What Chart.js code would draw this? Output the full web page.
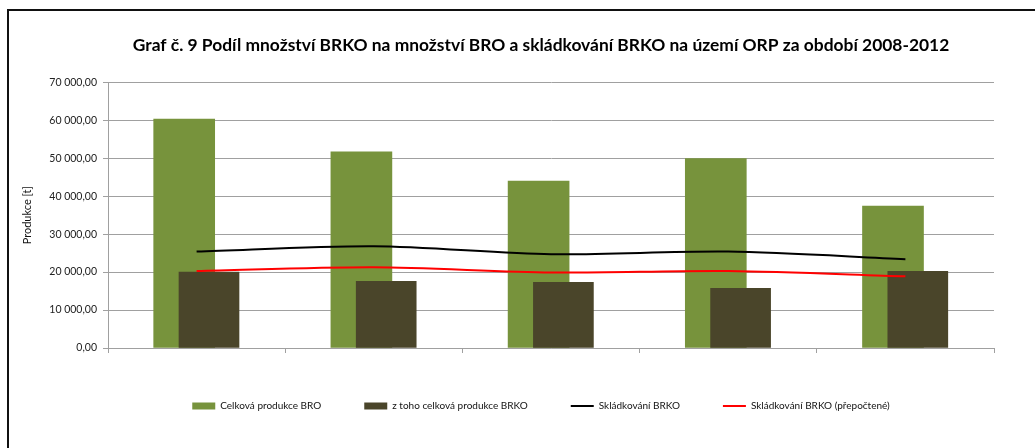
<!DOCTYPE html>
<html lang="cs">
<head>
<meta charset="utf-8">
<title>Graf č. 9</title>
<script src="https://cdn.jsdelivr.net/npm/chart.js@4.4.1/dist/chart.umd.min.js"></script>
<style>
    html, body { margin: 0; padding: 0; background: #fff; }
    #wrap { position: relative; width: 1035px; height: 448px; overflow: hidden; }
    #frame { position: absolute; left: 7px; top: 9px; width: 1100px; height: 500px; border: 2px solid #111; }
    #chart { position: absolute; left: 0; top: 0; }
</style>
</head>
<body>
<div id="wrap">
    <div id="frame"></div>
    <canvas id="chart" width="1035" height="448"></canvas>
</div>
<script>
// data
const years = ['2008', '2009', '2010', '2011', '2012'];
const produkceBRO = [60300, 51700, 44000, 49900, 37400];
const produkceBRKO = [20000, 17600, 17300, 15700, 20200];
const skladkovaniBRKO = [25400, 26800, 24700, 25400, 23400];
const skladkovaniPrepoctene = [20300, 21300, 19900, 20300, 18900];

const FONT = 'Lato, "Open Sans", sans-serif';
const barShift = 0.07; // Excel-style overlap of the two bars

function fmt(v) {
    const parts = v.toFixed(2).split('.');
    return parts[0].replace(/\B(?=(\d{3})+(?!\d))/g, ' ') + ',' + parts[1];
}

const ctx = document.getElementById('chart').getContext('2d');
new Chart(ctx, {
    type: 'bar',
    data: {
        labels: years,
        datasets: [{
            label: 'Celková produkce BRO',
            data: produkceBRO.map(function(v, i) { return { x: i - barShift, y: v }; }),
            backgroundColor: '#77933c',
            xAxisID: 'xb',
            grouped: false,
            barThickness: 61,
            order: 3
        }, {
            label: 'z toho celková produkce BRKO',
            data: produkceBRKO.map(function(v, i) { return { x: i + barShift, y: v }; }),
            backgroundColor: '#4a452a',
            xAxisID: 'xb',
            grouped: false,
            barThickness: 60,
            order: 2
        }, {
            type: 'line',
            label: 'Skládkování BRKO',
            data: skladkovaniBRKO,
            borderColor: '#000000',
            backgroundColor: '#000000',
            borderWidth: 2,
            pointRadius: 0,
            tension: 0.3,
            xAxisID: 'x',
            order: 0
        }, {
            type: 'line',
            label: 'Skládkování BRKO (přepočtené)',
            data: skladkovaniPrepoctene,
            borderColor: '#ff0000',
            backgroundColor: '#ff0000',
            borderWidth: 2,
            pointRadius: 0,
            tension: 0.3,
            xAxisID: 'x',
            order: 1
        }]
    },
    options: {
        responsive: false,
        animation: false,
        // title and legend are centred on the whole (wider) frame, so the
        // right margin of the plot comes from an empty right axis
        layout: { padding: { left: 47, right: 0, top: 0, bottom: 27 } },
        scales: {
            x: {
                type: 'category',
                offset: true,
                grid: { display: true, drawOnChartArea: false, offset: true, color: '#a0a0a0', tickLength: 5 },
                border: { color: '#a0a0a0' },
                ticks: { color: '#222', font: { family: FONT, size: 10 }, padding: 6 },
                afterFit: function(scale) { scale.height = 10; }
            },
            xb: {
                type: 'linear',
                display: false,
                offset: false,
                min: -0.5,
                max: 4.5
            },
            y: {
                min: 0,
                max: 70000,
                ticks: {
                    stepSize: 10000,
                    color: '#222',
                    font: { family: FONT, size: 10.5 },
                    padding: 6,
                    callback: function(value) { return fmt(value); }
                },
                grid: { color: '#a0a0a0', tickLength: 5 },
                border: { color: '#a0a0a0' },
                title: {
                    display: true,
                    text: 'Produkce [t]',
                    color: '#111',
                    font: { family: FONT, size: 11 },
                    padding: { top: -26.6, bottom: 0 }
                },
                afterFit: function(scale) { scale.width = 61; }
            },
            yr: {
                position: 'right',
                display: true,
                grid: { display: false },
                border: { display: false },
                ticks: { display: false },
                afterFit: function(scale) { scale.width = 41; }
            }
        },
        plugins: {
            title: {
                display: true,
                text: 'Graf č. 9 Podíl množství BRKO na množství BRO a skládkování BRKO na území ORP za období 2008-2012',
                color: '#000',
                font: { family: FONT, size: 17.4, weight: 'bold' },
                padding: { top: 34.5, bottom: 27 }
            },
            legend: {
                position: 'bottom',
                labels: {
                    usePointStyle: true,
                    pointStyleWidth: 23,
                    boxHeight: 7,
                    padding: 43,
                    color: '#111',
                    font: { family: FONT, size: 10 },
                    sort: function(a, b) { return a.datasetIndex - b.datasetIndex; },
                    generateLabels: function(chart) {
                        const items = Chart.defaults.plugins.legend.labels.generateLabels(chart);
                        items.forEach(function(item) {
                            const ds = chart.data.datasets[item.datasetIndex];
                            if (ds.type === 'line') {
                                item.pointStyle = 'line';
                                item.lineWidth = 2;
                                item.strokeStyle = ds.borderColor;
                            } else {
                                item.pointStyle = 'rect';
                                item.lineWidth = 0;
                            }
                        });
                        return items;
                    }
                }
            },
            tooltip: { enabled: false }
        }
    }
});
</script>
</body>
</html>
